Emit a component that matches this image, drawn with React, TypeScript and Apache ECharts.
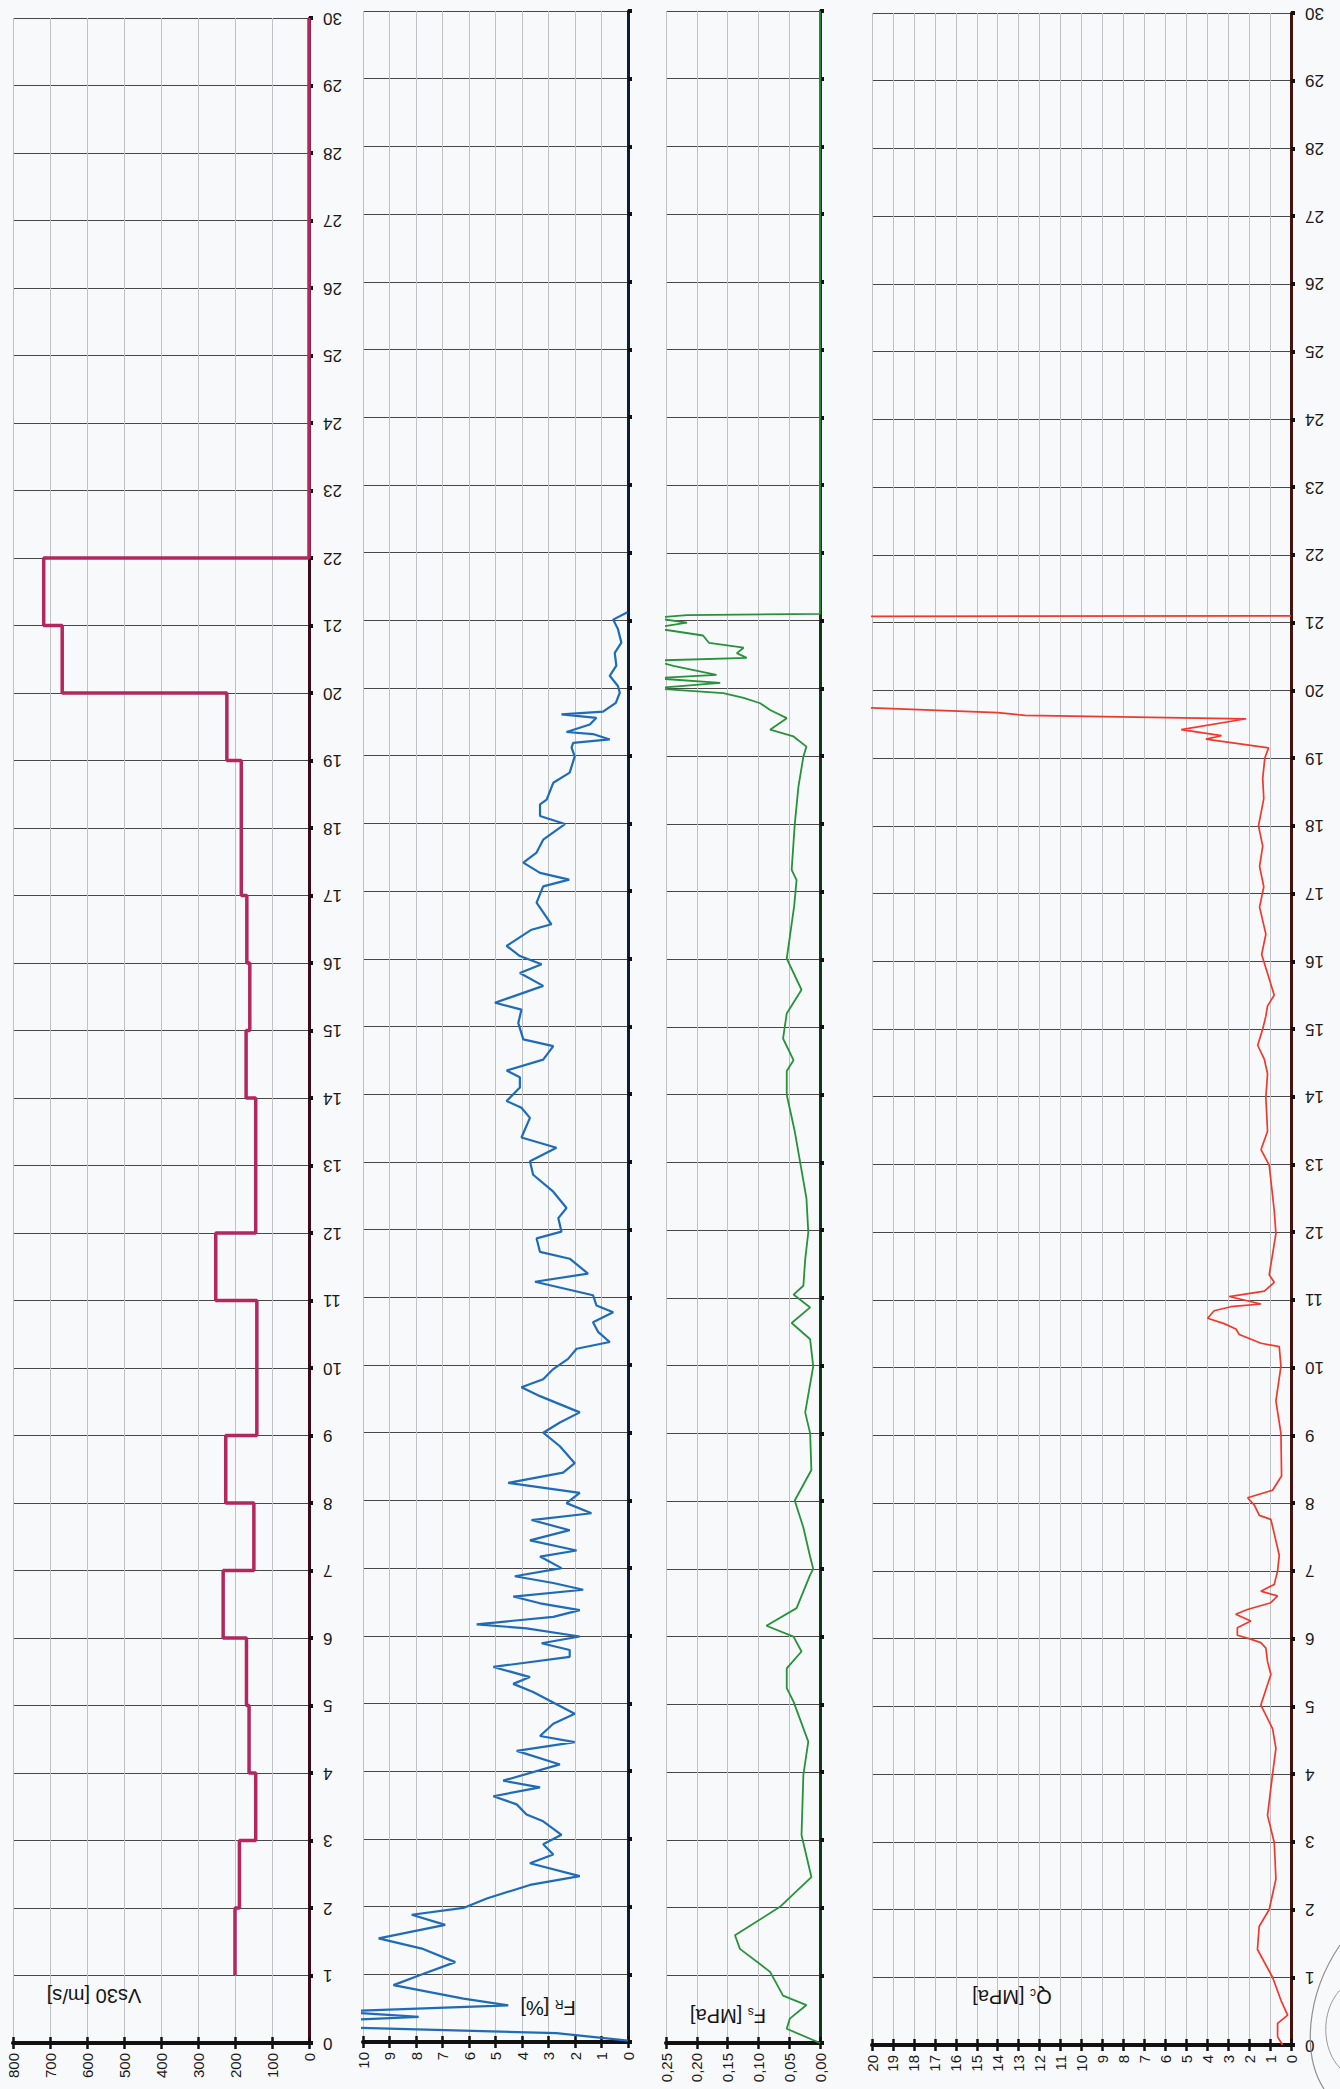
import React, { useEffect, useRef } from 'react';
import * as echarts from 'echarts';

const FONT = '"Liberation Sans", Arial, Helvetica, sans-serif';

// ---- Depth axis (m) ----
const depthMin = 0;
const depthMax = 30;
const depthStep = 1;

// ---- Vs30 [m/s] step profile: layer boundaries (m) and layer velocities ----
const vsBoundaries = [1, 2, 3, 4, 5, 6, 7, 8, 9, 11, 12, 14, 15, 16, 17, 19, 20, 21, 22];
const vsValues = [200, 188, 144, 162, 169, 232, 149, 225, 141, 252, 144, 170, 160, 168, 183, 222, 667, 717];
const vsTailDepths = [22, 30]; // velocity 0 above last layer

// ---- Fr [%] : [depth, value] ----
const frProfile: [number, number][] = [
  [21.12, 0.02], [21.01, 0.56], [20.87, 0.38], [20.67, 0.25], [20.52, 0.5], [20.33, 0.44], [20.18, 0.69],
  [20.03, 0.38], [19.93, 0.31], [19.78, 0.46], [19.65, 0.94], [19.61, 2.51], [19.56, 1.19], [19.46, 1.44],
  [19.35, 2.32], [19.32, 1.32], [19.24, 0.69], [19.19, 2.07], [19.12, 2.13], [18.99, 2.01], [18.75, 2.2],
  [18.6, 2.82], [18.35, 3.07], [18.28, 3.32], [18.11, 3.32], [17.99, 2.38], [17.76, 3.2], [17.57, 3.45],
  [17.42, 3.95], [17.27, 3.32], [17.17, 2.22], [17.07, 3.2], [16.83, 3.45], [16.51, 2.89], [16.43, 3.64],
  [16.19, 4.58], [16.04, 4.08], [15.92, 3.26], [15.79, 4.08], [15.6, 3.2], [15.35, 5.02], [15.25, 4.02],
  [15.05, 4.14], [14.81, 3.95], [14.71, 2.82], [14.51, 3.2], [14.35, 4.58], [14.25, 4.08], [14.1, 4.08],
  [13.9, 4.58], [13.8, 4.02], [13.65, 3.7], [13.36, 4.02], [13.21, 2.7], [13.01, 3.7], [12.81, 3.58],
  [12.56, 2.82], [12.32, 2.32], [12.17, 2.63], [11.97, 2.51], [11.87, 3.45], [11.67, 3.32], [11.57, 2.2],
  [11.35, 1.51], [11.23, 3.51], [11.03, 1.32], [10.88, 1.19], [10.78, 0.56], [10.63, 1.32], [10.49, 1.13],
  [10.34, 0.69], [10.24, 1.94], [10.09, 2.26], [9.94, 2.82], [9.79, 3.2], [9.67, 4.02], [9.54, 3.32],
  [9.3, 1.82], [9.15, 2.57], [9.0, 3.2], [8.8, 2.57], [8.55, 2.01], [8.41, 2.45], [8.26, 4.52], [8.11, 1.82],
  [7.96, 2.32], [7.81, 1.38], [7.71, 3.64], [7.56, 2.2], [7.41, 3.7], [7.26, 1.94], [7.17, 3.32], [7.0, 2.51],
  [6.88, 4.27], [6.78, 2.82], [6.68, 1.69], [6.58, 4.33], [6.48, 3.32], [6.38, 1.82], [6.28, 2.82],
  [6.17, 5.71], [6.11, 3.83], [5.99, 1.82], [5.89, 3.26], [5.79, 2.2], [5.69, 2.2], [5.54, 5.08],
  [5.39, 3.7], [5.29, 4.33], [5.17, 3.58], [5.04, 2.95], [4.85, 2.01], [4.7, 2.82], [4.52, 3.32],
  [4.43, 2.01], [4.3, 4.2], [4.1, 2.57], [3.86, 4.71], [3.76, 3.32], [3.63, 5.08], [3.51, 4.2],
  [3.36, 3.83], [3.26, 3.2], [3.06, 2.51], [2.92, 3.2], [2.77, 2.82], [2.64, 3.7], [2.45, 1.82],
  [2.32, 3.7], [2.12, 5.33], [1.98, 6.21], [1.88, 8.16], [1.73, 6.9], [1.53, 9.41], [1.38, 7.78],
  [1.18, 6.52], [0.99, 7.84], [0.84, 8.85], [0.64, 6.21], [0.54, 4.52], [0.45, 11], [0.37, 7.9],
  [0.32, 11], [0.22, 11], [0.13, 2.7], [0.02, 0],
];

// ---- Fs [MPa] : [depth, value] ----
const fsProfile: [number, number][] = [
  [30, 0], [21.1, 0], [21.08, 0.216], [21.04, 0.27], [20.97, 0.216], [20.89, 0.27], [20.78, 0.19],
  [20.67, 0.18], [20.6, 0.124], [20.52, 0.135], [20.45, 0.119], [20.41, 0.27], [20.33, 0.238],
  [20.2, 0.168], [20.15, 0.27], [20.08, 0.162], [20.0, 0.27], [19.93, 0.157], [19.86, 0.124],
  [19.78, 0.097], [19.68, 0.081], [19.56, 0.054], [19.39, 0.081], [19.29, 0.043], [19.14, 0.022],
  [18.99, 0.027], [18.55, 0.035], [17.99, 0.041], [17.32, 0.046], [17.17, 0.038], [16.78, 0.042],
  [16.01, 0.054], [15.55, 0.03], [15.2, 0.054], [14.83, 0.06], [14.51, 0.043], [14.35, 0.054],
  [14.0, 0.054], [13.46, 0.041], [12.47, 0.022], [11.97, 0.019], [11.57, 0.024], [11.18, 0.027],
  [11.05, 0.043], [10.86, 0.016], [10.63, 0.046], [10.39, 0.016], [9.99, 0.011], [9.31, 0.024],
  [9.0, 0.016], [8.46, 0.014], [8.01, 0.041], [7.61, 0.027], [7.18, 0.016], [7.0, 0.011], [6.91, 0.016],
  [6.42, 0.038], [6.16, 0.087], [6.0, 0.043], [5.78, 0.03], [5.53, 0.054], [5.24, 0.054], [5.04, 0.043],
  [4.45, 0.019], [3.96, 0.027], [3.07, 0.03], [2.45, 0.014], [2.01, 0.065], [1.59, 0.138], [1.39, 0.13],
  [1.05, 0.081], [0.7, 0.06], [0.56, 0.022], [0.36, 0.049], [0.21, 0.054], [0, 0],
];

// ---- Qc [MPa] : [depth, value] ----
const qcProfile: [number, number][] = [
  [21.1, 0], [21.09, 25], [19.76, 25], [19.74, 20], [19.67, 14.0], [19.63, 12.7], [19.58, 2.14],
  [19.42, 5.24], [19.33, 3.32], [19.28, 4.06], [19.15, 1.07], [19.0, 1.25], [18.7, 1.35], [18.4, 1.3],
  [18.0, 1.55], [17.7, 1.35], [17.4, 1.5], [17.1, 1.3], [16.8, 1.5], [16.4, 1.2], [16.1, 1.4], [15.8, 1.1],
  [15.5, 0.8], [15.34, 1.12], [15.19, 1.2], [15.0, 1.35], [14.76, 1.59], [14.55, 1.27], [14.34, 1.12],
  [13.99, 1.2], [13.49, 1.12], [13.22, 1.43], [12.99, 1.04], [12.32, 0.8], [11.98, 0.72], [11.37, 1.04],
  [11.26, 0.8], [11.13, 1.27], [11.05, 2.95], [10.94, 1.43], [10.9, 2.87], [10.84, 3.67], [10.73, 3.98],
  [10.65, 3.19], [10.57, 2.63], [10.49, 2.47], [10.36, 1.43], [10.31, 0.56], [10.02, 0.48], [9.51, 0.72],
  [9.03, 0.48], [8.4, 0.45], [8.19, 0.88], [8.08, 2.07], [7.97, 1.75], [7.82, 1.51], [7.76, 0.96],
  [7.55, 0.8], [7.23, 0.56], [7.0, 0.64], [6.8, 0.8], [6.7, 1.44], [6.63, 0.64], [6.53, 0.96], [6.43, 2.08],
  [6.36, 2.64], [6.26, 1.92], [6.16, 2.56], [6.05, 2.56], [6.0, 2.0], [5.94, 1.44], [5.86, 1.2],
  [5.66, 1.12], [5.47, 0.96], [5.02, 1.44], [4.67, 0.88], [4.38, 0.72], [4.0, 0.88], [3.39, 1.12],
  [2.99, 0.8], [2.45, 0.72], [2.0, 1.04], [1.75, 1.52], [1.41, 1.6], [1.0, 0.88], [0.66, 0.48],
  [0.44, 0.16], [0.32, 0.64], [0.12, 0.64], [0.0, 0.4],
];

// ---- x-axis scales ----
const vsScale = { max: 800, interval: 100 };
const frScale = { max: 10, interval: 1 };
const fsScale = { max: 0.25, interval: 0.05 };
const qcScale = { max: 20, interval: 1 };

function buildVsLine(): [number, number][] {
  const pts: [number, number][] = [];
  for (let i = 0; i < vsValues.length; i++) {
    pts.push([vsValues[i], vsBoundaries[i]]);
    pts.push([vsValues[i], vsBoundaries[i + 1]]);
  }
  vsTailDepths.forEach((d) => pts.push([0, d]));
  return pts;
}

const toXY = (p: [number, number][]) => p.map(([d, v]) => [v, d]);

export default function App() {
  const ref = useRef<HTMLDivElement>(null);

  useEffect(() => {
    const chart = echarts.init(ref.current!, null, { renderer: 'svg' });

    const panels = [
      { left: 13, top: 18, width: 296, bottom: 2043, scale: vsScale, axisColor: '#3d0b18', labels: true, fmt: (v: number) => String(v) },
      { left: 363, top: 11, width: 265, bottom: 2042, scale: frScale, axisColor: '#0d1d3b', labels: false, fmt: (v: number) => String(v) },
      { left: 666, top: 11, width: 154, bottom: 2043, scale: fsScale, axisColor: '#0d3a1a', labels: false, fmt: (v: number) => v.toFixed(2).replace('.', ',') },
      { left: 872, top: 13, width: 419, bottom: 2045, scale: qcScale, axisColor: '#45120e', labels: true, fmt: (v: number) => String(Math.round(v)) },
    ];

    const grid = panels.map((p) => ({
      left: p.left,
      top: p.top,
      width: p.width,
      height: p.bottom - p.top,
      outerBoundsMode: 'none',
      containLabel: false,
    }));

    const xMain = panels.map((p, i) => ({
      type: 'value',
      gridIndex: i,
      min: 0,
      max: p.scale.max,
      interval: p.scale.interval,
      inverse: true,
      position: 'bottom',
      axisLine: { show: true, onZero: false, lineStyle: { color: '#111', width: 4 } },
      axisTick: { show: true, length: 6, lineStyle: { color: '#111', width: 2.5 } },
      axisLabel: {
        show: true,
        rotate: 90,
        margin: 10,
        fontSize: 15,
        color: '#1a1a1a',
        fontFamily: FONT,
        showMinLabel: true,
        showMaxLabel: true,
        formatter: p.fmt,
      },
      splitLine: { show: true, lineStyle: { color: '#bfc1c4', width: 1 } },
    }));

    const xInner = panels.map((p, i) => ({
      type: 'value',
      gridIndex: i,
      min: 0,
      max: p.scale.max,
      interval: p.scale.interval,
      inverse: true,
      position: 'bottom',
      axisLine: { show: false, onZero: false },
      axisTick: { show: true, inside: true, length: 6, lineStyle: { color: '#111', width: 2.5 } },
      axisLabel: { show: false },
      splitLine: { show: false },
    }));

    const yAxes = panels.map((p, i) => ({
      type: 'value',
      gridIndex: i,
      min: depthMin,
      max: depthMax,
      interval: depthStep,
      position: 'right',
      axisLine: { show: true, onZero: false, lineStyle: { color: p.axisColor, width: 3 } },
      axisTick: { show: true, length: 4, lineStyle: { color: '#111', width: 4 } },
      axisLabel: {
        show: p.labels,
        rotate: 180,
        margin: 14,
        fontSize: 17,
        color: '#1a1a1a',
        fontFamily: FONT,
      },
      splitLine: { show: true, lineStyle: { color: '#474747', width: 1.2 } },
    }));

    const lineBase = { type: 'line', symbol: 'none', showSymbol: false, smooth: false, clip: true, z: 3 };

    const option = {
      animation: false,
      backgroundColor: '#f8f9fb',
      grid,
      xAxis: [...xMain, ...xInner],
      yAxis: yAxes,
      series: [
        { ...lineBase, name: 'Vs30', xAxisIndex: 0, yAxisIndex: 0, data: buildVsLine(), lineStyle: { color: '#b4275e', width: 3.5 } },
        { ...lineBase, name: 'Fr', xAxisIndex: 1, yAxisIndex: 1, data: toXY(frProfile), lineStyle: { color: '#1e6cb9', width: 2.2 } },
        { ...lineBase, name: 'Fs', xAxisIndex: 2, yAxisIndex: 2, data: toXY(fsProfile), lineStyle: { color: '#26923a', width: 1.8 } },
        { ...lineBase, name: 'Qc', xAxisIndex: 3, yAxisIndex: 3, data: toXY(qcProfile), lineStyle: { color: '#f2382b', width: 1.7 } },
      ],
      graphic: [
        {
          type: 'text', x: 94, y: 1996, rotation: Math.PI, z: 10,
          style: { text: 'Vs30 [m/s]', fontSize: 20, fontFamily: FONT, fill: '#151515', align: 'center', verticalAlign: 'middle' },
        },
        {
          type: 'text', x: 548, y: 2008, rotation: Math.PI, z: 10,
          style: {
            text: '{a|F}{b|R}{a| [%]}', align: 'center', verticalAlign: 'middle',
            rich: {
              a: { fontSize: 20, fontFamily: FONT, fill: '#151515' },
              b: { fontSize: 12, fontFamily: FONT, fill: '#151515', verticalAlign: 'bottom' },
            },
          },
        },
        {
          type: 'text', x: 728, y: 2016, rotation: Math.PI, z: 10,
          style: {
            text: '{a|F}{b|s}{a| [MPa]}', align: 'center', verticalAlign: 'middle',
            rich: {
              a: { fontSize: 20, fontFamily: FONT, fill: '#151515' },
              b: { fontSize: 12, fontFamily: FONT, fill: '#151515', verticalAlign: 'bottom' },
            },
          },
        },
        {
          type: 'text', x: 1012, y: 1997, rotation: Math.PI, z: 10,
          style: {
            text: '{a|Q}{b|c}{a| [MPa]}', align: 'center', verticalAlign: 'middle',
            rich: {
              a: { fontSize: 20, fontFamily: FONT, fill: '#151515' },
              b: { fontSize: 12, fontFamily: FONT, fill: '#151515', verticalAlign: 'bottom' },
            },
          },
        },
        {
          type: 'bezierCurve', z: 10,
          shape: { x1: 1340, y1: 1945, cpx1: 1306, cpy1: 1995, cpx2: 1302, cpy2: 2055, x2: 1324, y2: 2089 },
          style: { stroke: '#8e8e8e', lineWidth: 1.2, fill: 'none' },
        },
        {
          type: 'bezierCurve', z: 10,
          shape: { x1: 1340, y1: 1990, cpx1: 1320, cpy1: 2012, cpx2: 1322, cpy2: 2050, x2: 1340, y2: 2068 },
          style: { stroke: '#9a9a9a', lineWidth: 1, fill: 'none' },
        },
      ],
    };

    chart.setOption(option as any);
    return () => chart.dispose();
  }, []);

  return (
    <div
      ref={ref}
      style={{ position: 'absolute', left: 0, top: 0, width: 1340, height: 2089 }}
    />
  );
}
